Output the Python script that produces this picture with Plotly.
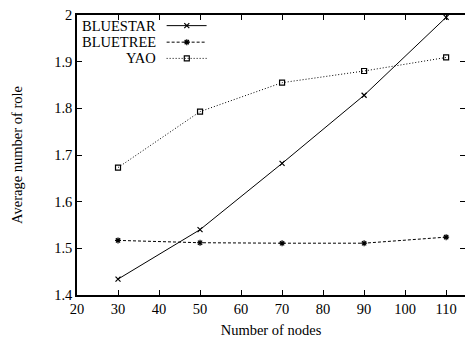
import plotly.graph_objects as go

# ---- data ----
nodes = [30, 50, 70, 90, 110]
bluestar = [1.434, 1.540, 1.682, 1.828, 1.995]
bluetree = [1.517, 1.512, 1.511, 1.511, 1.524]
yao = [1.673, 1.793, 1.855, 1.880, 1.909]
series_names = ["BLUESTAR", "BLUETREE", "YAO"]
x_ticks = [20, 30, 40, 50, 60, 70, 80, 90, 100, 110]
y_ticks = [1.4, 1.5, 1.6, 1.7, 1.8, 1.9, 2.0]
y_tick_labels = ["1.4", "1.5", "1.6", "1.7", "1.8", "1.9", "2"]

# ---- styles ----
FONT = "Liberation Serif"
FS = 14.5
styles = [
    dict(dash="solid", symbol="x-thin-open", size=5, mlw=1.2),
    dict(dash="3px,2px", symbol="asterisk-open", size=5, mlw=1.2),
    dict(dash="1px,2px", symbol="square-open", size=5, mlw=1.2),
]
values = [bluestar, bluetree, yao]

fig = go.Figure()
for name, vals, st in zip(series_names, values, styles):
    fig.add_trace(go.Scatter(
        x=nodes, y=vals, name=name, mode="lines+markers",
        line=dict(color="black", width=1, dash=st["dash"]),
        marker=dict(symbol=st["symbol"], size=st["size"], color="black",
                    line=dict(color="black", width=st["mlw"])),
        showlegend=False,
    ))

# ---- legend (gnuplot style: right-aligned text, sample to the right) ----
KEY_TEXT_RIGHT = 0.2088
KEY_X0, KEY_XM, KEY_X1 = 0.231, 0.283, 0.334
KEY_Y = [0.962, 0.903, 0.845]
for name, st, ky in zip(series_names, styles, KEY_Y):
    fig.add_annotation(text=name, xref="paper", yref="paper", x=KEY_TEXT_RIGHT, y=ky,
                       xanchor="right", yanchor="middle", showarrow=False,
                       font=dict(family=FONT, size=FS, color="black"))
    fig.add_trace(go.Scatter(
        x=[KEY_X0, KEY_X1], y=[ky, ky], xaxis="x2", yaxis="y3", mode="lines",
        line=dict(color="black", width=1, dash=st["dash"]), showlegend=False, hoverinfo="skip"))
    fig.add_trace(go.Scatter(
        x=[KEY_XM], y=[ky], xaxis="x2", yaxis="y3", mode="markers",
        marker=dict(symbol=st["symbol"], size=st["size"], color="black",
                    line=dict(color="black", width=st["mlw"])),
        showlegend=False, hoverinfo="skip"))

axis_common = dict(ticks="inside", ticklen=5, tickwidth=1.2, tickcolor="black",
                   showgrid=False, zeroline=False,
                   tickfont=dict(family=FONT, size=FS, color="black"))

fig.update_layout(
    width=465, height=339,
    margin=dict(l=77, r=0, t=15, b=44),
    paper_bgcolor="white", plot_bgcolor="white",
    font=dict(family=FONT, size=FS, color="black"),
    xaxis=dict(range=[20, 114.6], tickvals=x_ticks, ticktext=[str(v) for v in x_ticks],
               showline=True, linecolor="black", linewidth=1.5, mirror="ticks",
               title=dict(text="Number of nodes", font=dict(family=FONT, size=FS), standoff=9),
               **axis_common),
    yaxis=dict(range=[1.4, 2.0], tickvals=y_ticks, ticktext=y_tick_labels,
               showline=True, linecolor="black", linewidth=1.5, mirror=False,
               title=dict(text="Average number of role", font=dict(family=FONT, size=FS), standoff=28),
               **axis_common),
    yaxis2=dict(range=[1.4, 2.0], tickvals=y_ticks, overlaying="y", side="right",
                showticklabels=False, showline=False, anchor="x",
                ticks="inside", ticklen=5, tickwidth=1.2, tickcolor="black",
                showgrid=False, zeroline=False),
    xaxis2=dict(range=[0, 1], overlaying="x", visible=False, anchor="y3"),
    yaxis3=dict(range=[0, 1], overlaying="y", visible=False, anchor="x2"),
)
# dummy trace to activate right-hand mirrored ticks
fig.add_trace(go.Scatter(x=[None], y=[None], yaxis="y2", showlegend=False, hoverinfo="skip"))

fig.write_html("out.html", config={"displayModeBar": False},
               post_script="document.body.style.margin='0';")
